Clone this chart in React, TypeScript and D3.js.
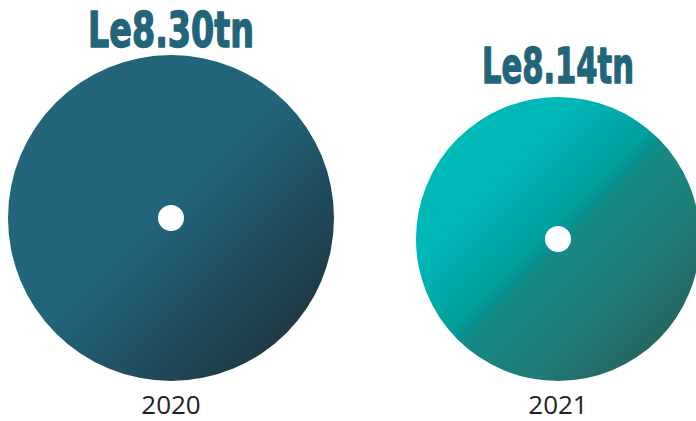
import React, { useEffect, useRef } from 'react';
import * as d3 from 'd3';

const years = ['2020', '2021'];
const values = [8.30, 8.14];
const labels = ['Le8.30tn', 'Le8.14tn'];

const WIDTH = 696;
const HEIGHT = 421;

const App: React.FC = () => {
    const svgRef = useRef<SVGSVGElement>(null);

    useEffect(() => {
        if (!svgRef.current) return;
        const svg = d3.select(svgRef.current);
        svg.selectAll('*').remove();

        const baseY = 381;  // circles sit on a common bottom line

        const x = d3.scalePoint<string>()
            .domain(years)
            .range([171, 558]);

        const r = d3.scaleLinear()
            .domain([8.14, 8.30])
            .range([142, 163]);

        const defs = svg.append('defs');

        // dark blue disc
        const g0 = defs.append('linearGradient')
            .attr('id', 'grad0')
            .attr('x1', '0').attr('y1', '0')
            .attr('x2', '1').attr('y2', '1');
        [[0, '#22667b'], [0.48, '#22647a'], [1, '#1d2930']].forEach(([o, c]) => {
            g0.append('stop').attr('offset', o as number).attr('stop-color', c as string);
        });

        // teal disc, with a hard-ish break along the diagonal
        const g1 = defs.append('linearGradient')
            .attr('id', 'grad1')
            .attr('x1', '0').attr('y1', '0')
            .attr('x2', '1').attr('y2', '1');
        [[0, '#00bcbc'], [0.3, '#00b6b6'], [0.47, '#009e9c'], [0.5, '#06918e'],
         [0.52, '#168a86'], [0.7, '#207b76'], [1, '#2b524b']].forEach(([o, c]) => {
            g1.append('stop').attr('offset', o as number).attr('stop-color', c as string);
        });

        const arc = d3.arc<number>()
            .innerRadius(13)
            .outerRadius(d => r(d))
            .startAngle(0)
            .endAngle(2 * Math.PI);

        const items = values.map((v, i) => ({ v, year: years[i], label: labels[i], i }));

        const g = svg.append('g');

        const item = g.selectAll('g.item')
            .data(items)
            .join('g')
            .attr('class', 'item')
            .attr('transform', d => `translate(${x(d.year)},${baseY - r(d.v)})`);

        item.append('path')
            .attr('d', d => arc(d.v) as string)
            .attr('fill', d => `url(#grad${d.i})`);

        item.append('text')
            .attr('y', d => -r(d.v) - 8 - (d.i === 1 ? 6 : 0))
            .attr('text-anchor', 'middle')
            .attr('font-family', '"DejaVu Sans Condensed", "DejaVu Sans", sans-serif')
            .attr('font-weight', 'bold')
            .attr('font-size', 50)
            .attr('textLength', d => (d.i === 0 ? 166 : 152))
            .attr('lengthAdjust', 'spacingAndGlyphs')
            .attr('fill', '#22657a')
            .attr('stroke', '#22657a')
            .attr('stroke-width', 1.4)
            .attr('stroke-linejoin', 'round')
            .text(d => d.label);

        item.append('text')
            .attr('y', d => r(d.v) + 33)
            .attr('text-anchor', 'middle')
            .attr('font-family', '"Open Sans", sans-serif')
            .attr('font-size', 26)
            .attr('fill', '#222222')
            .text(d => d.year);
    }, []);

    return (
        <svg
            ref={svgRef}
            width={WIDTH}
            height={HEIGHT}
            style={{ position: 'absolute', left: 0, top: 0, background: '#ffffff' }}
        />
    );
};

export default App;
